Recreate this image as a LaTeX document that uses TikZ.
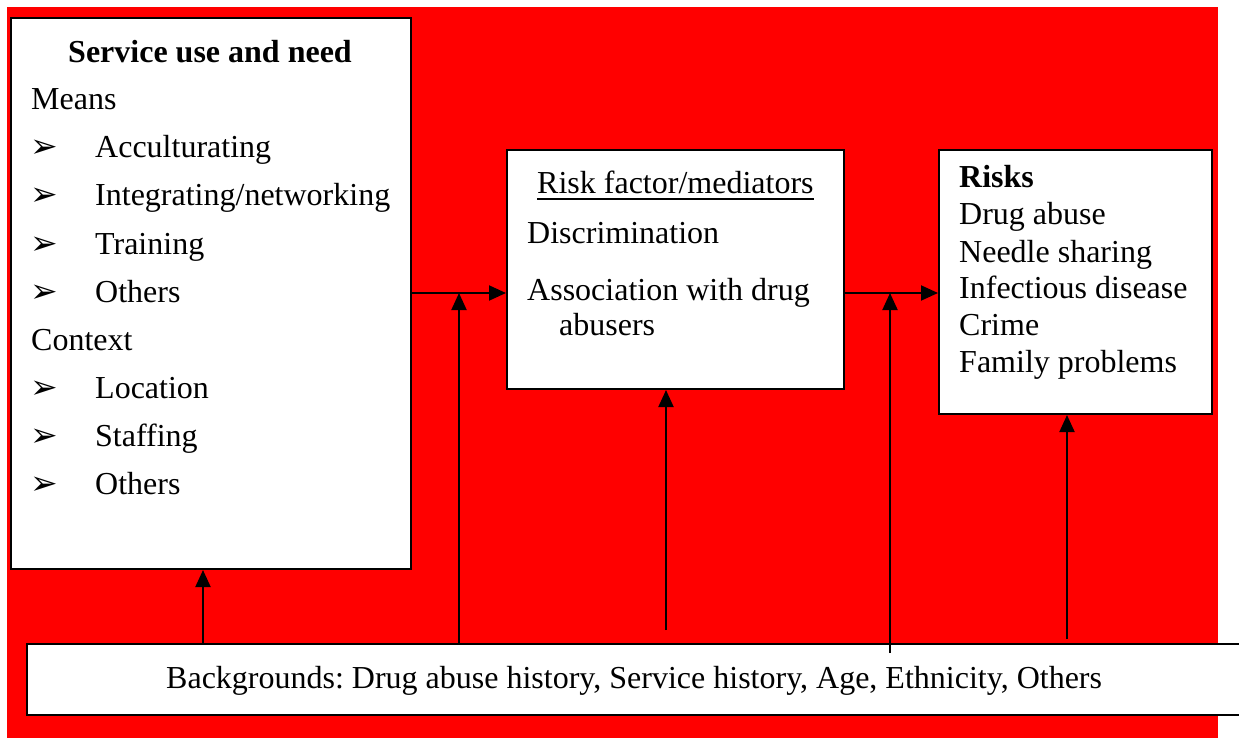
\documentclass[tikz,border=0pt]{standalone}
\usepackage{fontspec}
\setmainfont{Liberation Serif}
\newfontfamily\bulfont{DejaVu Sans}
\usetikzlibrary{arrows.meta}
\definecolor{bgred}{RGB}{255,0,0}
\frenchspacing
\tikzset{
  box/.style={draw=black, fill=white, line width=2pt, rectangle, inner sep=0pt, anchor=north west},
  txt/.style={inner sep=0pt, anchor=base west, font=\fontsize{32}{38}\selectfont},
  bul/.style={inner sep=0pt, anchor=base west, font=\fontsize{33}{38}\bulfont},
  arr/.style={line width=2pt, -{Triangle[length=17pt,width=15pt]}},
}
\begin{document}
\begin{tikzpicture}[x=1pt,y=-1pt]
\useasboundingbox (0,0) rectangle (1239,738);
\fill[bgred] (7,7) rectangle (1218,738);
% boxes
\node[box, minimum width=400pt, minimum height=551pt] (sun) at (10,17) {};
\node[box, minimum width=337pt, minimum height=239pt] (rf) at (506,149) {};
\node[box, minimum width=273pt, minimum height=264pt] (rk) at (938,149) {};
\node[box, minimum width=1260pt, minimum height=71pt] (bg) at (26,643) {};
% left box text
\node[txt, anchor=base, font=\fontsize{32}{38}\selectfont\bfseries] (sunt) at (210,63) {Service use and need};
\node[txt] (means) at (31,110) {Means};
\node[bul] (b1) at (30,158) {➢}; \node[txt] (m1) at (95,158) {Acculturating};
\node[bul] (b2) at (30,206) {➢}; \node[txt] (m2) at (95,206) {Integrating/networking};
\node[bul] (b3) at (30,254) {➢}; \node[txt] (m3) at (95,254) {Training};
\node[bul] (b4) at (30,302) {➢}; \node[txt] (m4) at (95,302) {Others};
\node[txt] (ctx) at (31,350) {Context};
\node[bul] (b5) at (30,398) {➢}; \node[txt] (c1) at (95,398) {Location};
\node[bul] (b6) at (30,446) {➢}; \node[txt] (c2) at (95,446) {Staffing};
\node[bul] (b7) at (30,494) {➢}; \node[txt] (c3) at (95,494) {Others};
% middle box text
\node[txt] (rft) at (537,194) {Risk factor/mediators};
\draw[line width=1.4pt] (rft.base west) ++(0,5) -- ([yshift=-5pt]rft.base east);
\node[txt] (r1) at (527,243) {Discrimination};
\node[txt] (r2) at (527,300) {Association with drug};
\node[txt] (r3) at (559,335) {abusers};
% right box text
\node[txt, font=\fontsize{32}{38}\selectfont\bfseries] (rkt) at (959,188) {Risks};
\node[txt] (k1) at (959,225) {Drug abuse};
\node[txt] (k2) at (959,262) {Needle sharing};
\node[txt] (k3) at (959,298) {Infectious disease};
\node[txt] (k4) at (959,335) {Crime};
\node[txt] (k5) at (959,372) {Family problems};
% bottom text
\node[txt] (bgt) at (166,688) {Backgrounds: Drug abuse history, Service history, Age, Ethnicity, Others};
% connector anchors
\coordinate (h) at (0,293);
\coordinate (x1) at (203,0);
\coordinate (x2) at (459,0);
\coordinate (x3) at (666,0);
\coordinate (x4) at (890,0);
\coordinate (x5) at (1067,0);
\coordinate (e3) at (666,630);
\coordinate (e4) at (890,653);
\coordinate (e5) at (1067,639);
% arrows
\draw[arr] (sun.east |- h) -- (rf.west |- h);
\draw[arr] (rf.east |- h) -- (rk.west |- h);
\draw[arr] (bg.north -| x1) -- (sun.south -| x1);
\draw[arr] (bg.north -| x2) -- (h -| x2);
\draw[arr] (e3) -- (rf.south -| x3);
\draw[arr] (e4) -- (h -| x4);
\draw[arr] (e5) -- (rk.south -| x5);
\end{tikzpicture}
\end{document}
